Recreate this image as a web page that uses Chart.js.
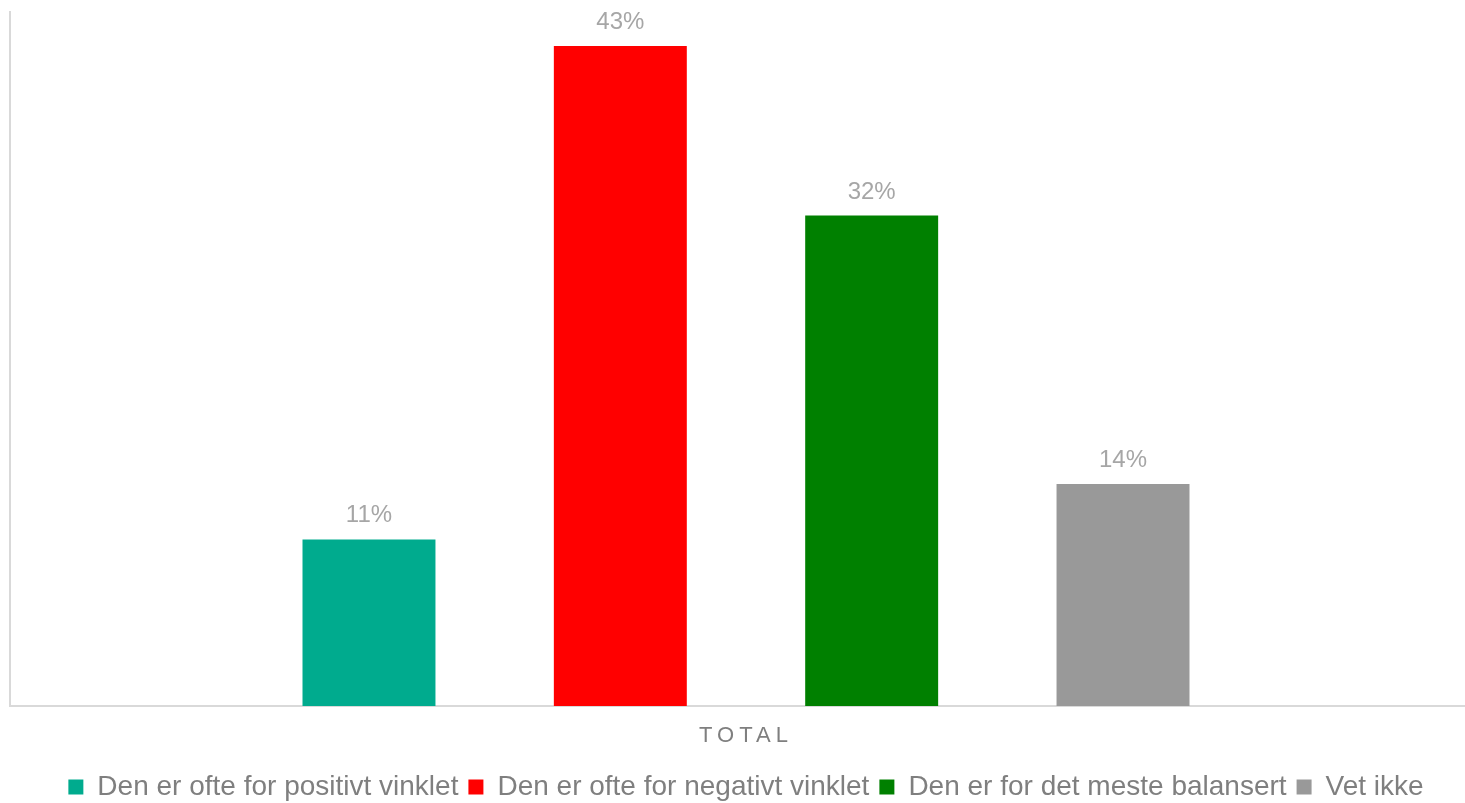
<!DOCTYPE html>
<html>
<head>
<meta charset="utf-8">
<script src="https://cdn.jsdelivr.net/npm/chart.js@4/dist/chart.umd.min.js"></script>
<style>
  html, body { margin: 0; padding: 0; background: #fff; overflow: hidden; }
</style>
</head>
<body>
<canvas id="chart" width="1500" height="803"></canvas>
<script>
const categories = ['TOTAL'];
const seriesNames = [
  'Den er ofte for positivt vinklet',
  'Den er ofte for negativt vinklet',
  'Den er for det meste balansert',
  'Vet ikke'
];
const seriesValues = [10.8, 42.8, 31.8, 14.4];
const seriesColors = ['#00ab8e', '#ff0000', '#008000', '#999999'];

const FONT = 'Arial, "Liberation Sans", sans-serif';

// percent labels over the bars
const barLabels = {
  id: 'barLabels',
  afterDatasetsDraw(chart) {
    const ctx = chart.ctx;
    ctx.save();
    ctx.font = '24px ' + FONT;
    ctx.fillStyle = '#a6a6a6';
    ctx.textAlign = 'center';
    ctx.textBaseline = 'alphabetic';
    chart.data.datasets.forEach((ds, i) => {
      chart.getDatasetMeta(i).data.forEach((bar, j) => {
        ctx.fillText(Math.round(ds.data[j]) + '%', bar.x, bar.y - 17);
      });
    });
    ctx.restore();
  }
};

// spaced out category label
const spacedTicks = {
  id: 'spacedTicks',
  afterLayout(chart) {
    const s = chart.scales.x;
    if (s._spaced) return;
    const orig = s.drawLabels.bind(s);
    s.drawLabels = function(area) {
      this.ctx.save();
      this.ctx.letterSpacing = '5px';
      orig(area);
      this.ctx.restore();
    };
    s._spaced = true;
  }
};

new Chart(document.getElementById('chart'), {
  type: 'bar',
  data: {
    labels: categories,
    datasets: seriesNames.map((name, i) => ({
      label: name,
      data: [seriesValues[i]],
      backgroundColor: seriesColors[i],
      categoryPercentage: 0.683,
      barPercentage: 0.529
    }))
  },
  options: {
    responsive: false,
    animation: false,
    layout: { padding: { left: 10, right: 18, top: 12, bottom: -8 } },
    scales: {
      x: {
        grid: { display: false, drawTicks: false },
        border: { color: '#d9d9d9', width: 2 },
        ticks: { color: '#7f7f7f', font: { size: 22, family: FONT }, padding: 17 },
        afterFit: s => { s.height = 57; }
      },
      y: {
        min: 0,
        max: 45,
        grid: { display: false, drawTicks: false },
        border: { color: '#d9d9d9', width: 2 },
        ticks: { display: false },
        afterFit: s => { s.width = 0; }
      }
    },
    plugins: {
      tooltip: { enabled: false },
      legend: {
        position: 'bottom',
        labels: {
          color: '#7f7f7f',
          font: { size: 28, family: FONT },
          boxWidth: 15,
          boxHeight: 15,
          padding: 10
        }
      }
    }
  },
  plugins: [barLabels, spacedTicks]
});
</script>
</body>
</html>
